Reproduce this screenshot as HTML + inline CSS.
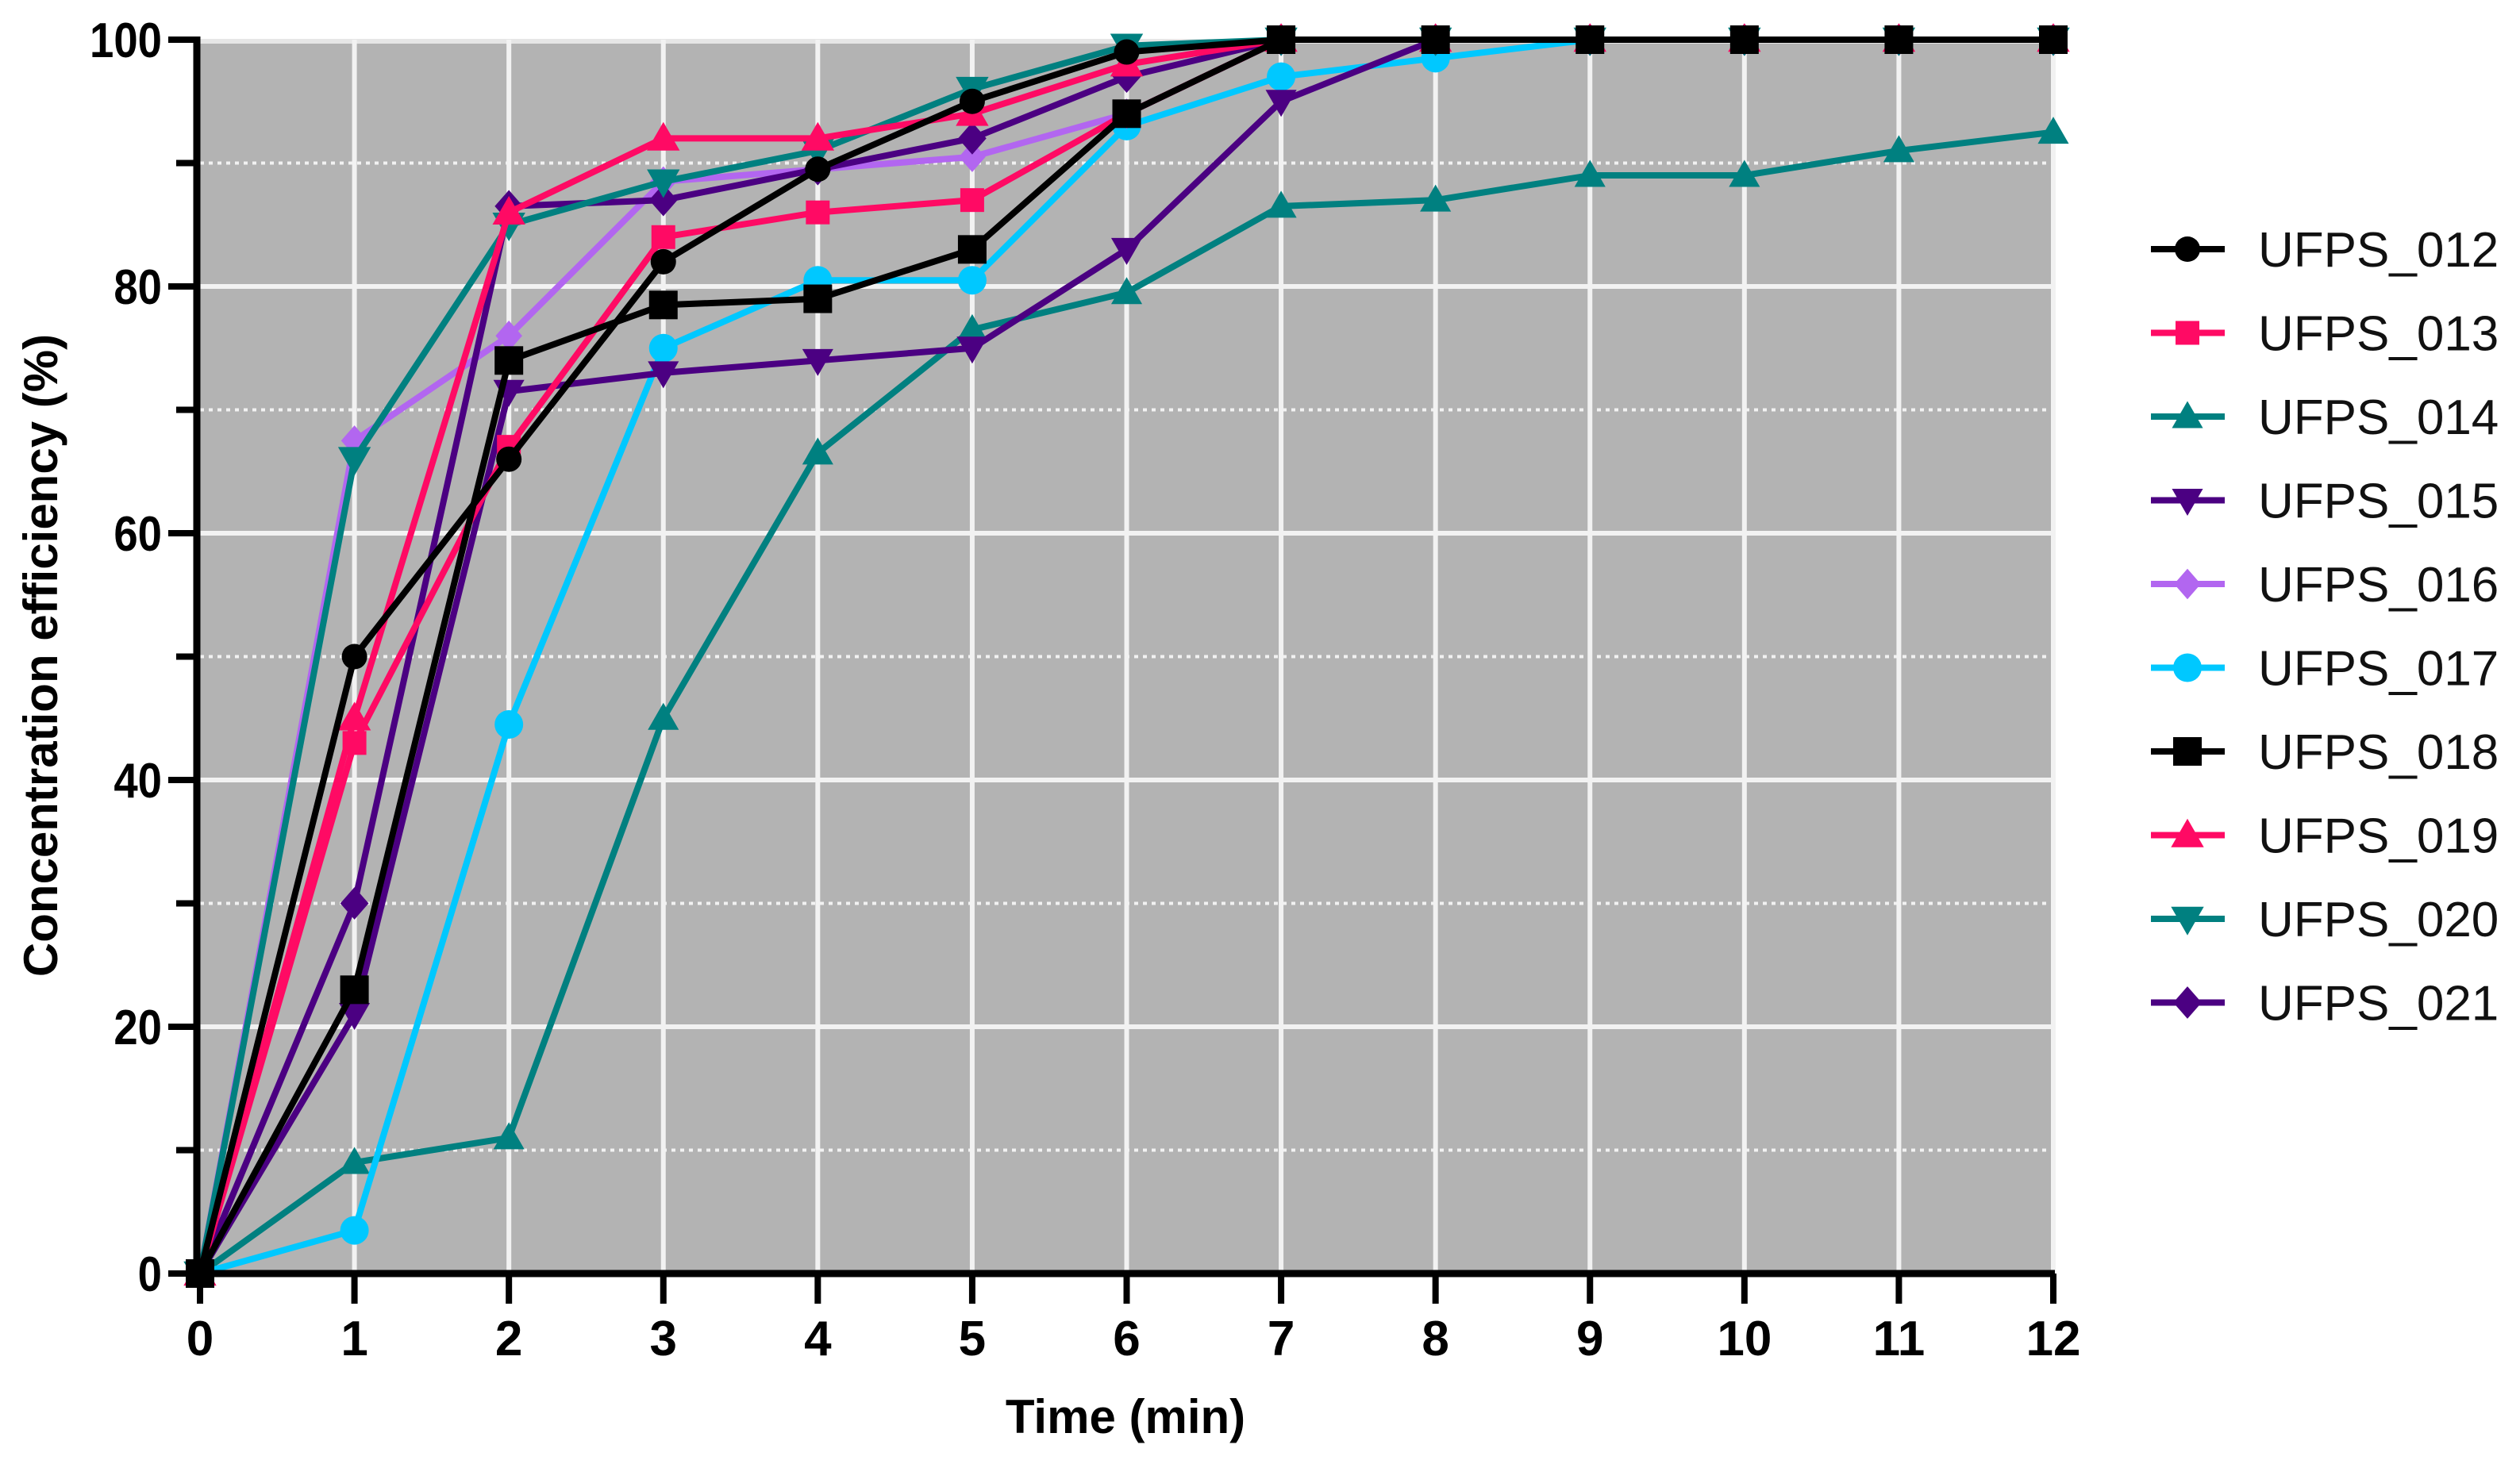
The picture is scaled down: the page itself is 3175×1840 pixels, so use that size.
<!DOCTYPE html>
<html><head><meta charset="utf-8"><style>
html,body{margin:0;padding:0;background:#fff;}
svg{display:block;font-family:"Liberation Sans",sans-serif;}
</style></head><body>
<svg id="chart" width="3175" height="1840" viewBox="0 0 3175 1840" xmlns="http://www.w3.org/2000/svg"></svg>
<script>
const times = [0,1,2,3,4,5,6,7,8,9,10,11,12];
const seriesNames = ["UFPS_012","UFPS_013","UFPS_014","UFPS_015","UFPS_016","UFPS_017","UFPS_018","UFPS_019","UFPS_020","UFPS_021"];
const s012 = [0,50,66,82,89.5,95,99,100,100,100,100,100,100];
const s013 = [0,43,67,84,86,87,94,100,100,100,100,100,100];
const s014 = [0,9,11,45,66.5,76.5,79.5,86.5,87,89,89,91,92.5];
const s015 = [0,21,71.5,73,74,75,83,95,100,100,100,100,100];
const s016 = [0,67.5,76,88.5,89.5,90.5,94,100,100,100,100,100,100];
const s017 = [0,3.5,44.5,75,80.5,80.5,93,97,98.5,100,100,100,100];
const s018 = [0,23,74,78.5,79,83,94,100,100,100,100,100,100];
const s019 = [0,45,86,92,92,94,98,100,100,100,100,100,100];
const s020 = [0,66,85,88.5,91,96,99.5,100,100,100,100,100,100];
const s021 = [0,30,86.5,87,89.5,92,97,100,100,100,100,100,100];
const yTicks = [0,20,40,60,80,100];
const xTicks = [0,1,2,3,4,5,6,7,8,9,10,11,12];

const seriesData = [s012,s013,s014,s015,s016,s017,s018,s019,s020,s021];
const colors = ["#000000","#ff0a64","#008080","#4b0082","#b266f0","#00c8ff","#000000","#ff0a64","#008080","#4b0082"];
const markers = ["circle","square","tri-up","tri-down","diamond","circle","square","tri-up","tri-down","diamond"];
const msize = [16,15,17,17,16,18,18,18,18,17];

const X0=252, X1=2587, Y0=1605, Y1=50;
const xs = t => X0 + (t/12)*(X1-X0);
const ys = v => Y0 - (v/100)*(Y0-Y1);
const svg = document.getElementById('chart');
const NS = "http://www.w3.org/2000/svg";
function mk(tag, attrs, parent){const e=document.createElementNS(NS,tag);for(const k in attrs)e.setAttribute(k,attrs[k]);(parent||svg).appendChild(e);return e;}

let bg = mk('rect',{x:X0,y:Y1,width:X1-X0,height:Y0-Y1,fill:'#b3b3b3'});


for(let v=10; v<100; v+=10){
  const major = v%20===0;
  let g = mk('line',{x1:X0,x2:X1,y1:ys(v),y2:ys(v),stroke:'#f2f2f2','stroke-width':major?6:4,'stroke-dasharray':major?'none':'5,6'});
  
  
}
let topg = mk('line',{x1:X0,x2:X1,y1:ys(100)+2,y2:ys(100)+2,stroke:'#e6e6e6','stroke-width':6});


for(const t of xTicks){ if(t===0) continue;
  let g = mk('line',{x1:xs(t),x2:xs(t),y1:Y1,y2:Y0,stroke:'#f2f2f2','stroke-width':6});
  
  
}
const gSeries = mk('g',{});


function marker(type, cx, cy, r, color, parent){
  let e;
  if(type==='circle') e = mk('circle',{cx:cx,cy:cy,r:r,fill:color},parent);
  else if(type==='square') e = mk('rect',{x:cx-r,y:cy-r,width:2*r,height:2*r,fill:color},parent);
  else if(type==='tri-up') e = mk('polygon',{points:`${cx},${cy-r*1.15} ${cx-r*1.15},${cy+r*0.85} ${cx+r*1.15},${cy+r*0.85}`,fill:color},parent);
  else if(type==='tri-down') e = mk('polygon',{points:`${cx},${cy+r*1.15} ${cx-r*1.15},${cy-r*0.85} ${cx+r*1.15},${cy-r*0.85}`,fill:color},parent);
  else e = mk('polygon',{points:`${cx},${cy-r*1.2} ${cx+r*1.05},${cy} ${cx},${cy+r*1.2} ${cx-r*1.05},${cy}`,fill:color},parent);
  return e;
}
const order = [2,5,4,3,9,8,1,7,6,0];
for(const i of order){
  const g = mk('g',{},gSeries);
  
  
  const pts = seriesData[i].map((v,j)=>xs(times[j])+','+ys(v)).join(' ');
  const pl = mk('polyline',{points:pts,fill:'none',stroke:colors[i],'stroke-width':8,'stroke-linejoin':'round'},g);
  
  
  seriesData[i].forEach((v,j)=>{
    const m = marker(markers[i], xs(times[j]), ys(v), msize[i], colors[i], g);
    
    
  });
}
let ya = mk('line',{x1:X0-4,x2:X0-4,y1:Y1-4,y2:Y0+4,stroke:'#000','stroke-width':9});


let xa = mk('line',{x1:X0-8,x2:X1+2,y1:Y0,y2:Y0,stroke:'#000','stroke-width':9});


for(let v=0; v<=100; v+=10){
  const major = v%20===0;
  let t = mk('line',{x1:X0-(major?40:30),x2:X0,y1:ys(v),y2:ys(v),stroke:'#000','stroke-width':8});
  
  
}
for(const v of yTicks){
  let t = mk('text',{x:X0-48,y:ys(v)+22,'text-anchor':'end','font-size':62,'font-weight':'bold',fill:'#000',transform:`translate(${(X0-48)*0.12},0) scale(0.88,1)`});
  t.textContent = v;
  
  
}
for(const tv of xTicks){
  let t = mk('line',{x1:xs(tv),x2:xs(tv),y1:Y0,y2:Y0+38,stroke:'#000','stroke-width':8});
  
  
  let l = mk('text',{x:xs(tv),y:1708,'text-anchor':'middle','font-size':62,'font-weight':'bold',fill:'#000'});
  l.textContent = tv;
  
  
}
let xt = mk('text',{x:1418,y:1806,'text-anchor':'middle','font-size':60,'font-weight':'bold',fill:'#000'});
xt.textContent = 'Time (min)';


let yt = mk('text',{x:0,y:0,'text-anchor':'middle','font-size':60,'font-weight':'bold',fill:'#000',transform:'translate(72,826) rotate(-90)'});
yt.textContent = 'Concentration efficiency (%)';


const lg = mk('g',{});


seriesNames.forEach((n,i)=>{
  const y = 314 + i*105.5;
  const g = mk('g',{},lg);
  
  
  mk('line',{x1:2710,x2:2803,y1:y,y2:y,stroke:colors[i],'stroke-width':8},g);
  marker(markers[i],2756,y,msize[i],colors[i],g);
  const t = mk('text',{x:2845,y:y+22,'font-size':62,fill:'#111'},g);
  t.textContent = n;
});
</script>
</body></html>
